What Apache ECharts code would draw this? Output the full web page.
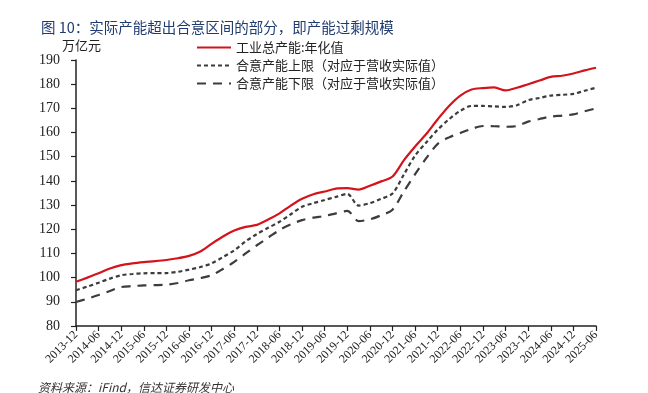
<!DOCTYPE html>
<html>
<head>
<meta charset="utf-8">
<script src="https://cdn.jsdelivr.net/npm/echarts@6/dist/echarts.min.js"></script>
<style>
  html, body { margin: 0; padding: 0; background: #fff; }
  #chart { width: 648px; height: 393px; }
</style>
</head>
<body>
<div id="chart"></div>
<script>
// quarterly points, labels shown every half year
const quarters = [
  '2013-12', '2014-03', '2014-06', '2014-09', '2014-12', '2015-03', '2015-06', '2015-09',
  '2015-12', '2016-03', '2016-06', '2016-09', '2016-12', '2017-03', '2017-06', '2017-09',
  '2017-12', '2018-03', '2018-06', '2018-09', '2018-12', '2019-03', '2019-06', '2019-09',
  '2019-12', '2020-03', '2020-06', '2020-09', '2020-12', '2021-03', '2021-06', '2021-09',
  '2021-12', '2022-03', '2022-06', '2022-09', '2022-12', '2023-03', '2023-06', '2023-09',
  '2023-12', '2024-03', '2024-06', '2024-09', '2024-12', '2025-03', '2025-06'
];

const totalCapacity = [
  98.3, 100.0, 101.8, 103.8, 105.2, 105.9, 106.4, 106.8,
  107.3, 108.0, 109.0, 110.8, 114.0, 117.0, 119.5, 121.0,
  121.8, 124.0, 126.6, 129.8, 132.6, 134.5, 135.6, 136.8,
  137.0, 136.4, 138.0, 139.8, 141.8, 148.5, 154.2, 159.5,
  165.5, 171.0, 175.3, 177.8, 178.4, 178.7, 177.4, 178.5,
  180.0, 181.5, 183.0, 183.5, 184.4, 185.7, 186.8
];

const upperBound = [
  94.8, 96.3, 97.9, 99.6, 101.0, 101.5, 101.8, 101.9,
  101.9, 102.4, 103.3, 104.4, 105.9, 108.5, 111.3, 115.0,
  118.0, 120.6, 123.1, 126.2, 129.3, 130.8, 132.1, 133.4,
  134.6, 129.8, 130.8, 132.6, 134.8, 142.6, 150.5, 156.0,
  161.2, 165.5, 169.0, 171.0, 171.0, 170.8, 170.6, 171.3,
  173.4, 174.3, 175.3, 175.6, 176.0, 177.3, 178.5
];

const lowerBound = [
  89.9, 91.3, 92.8, 94.5, 96.1, 96.5, 96.8, 96.9,
  97.1, 97.8, 98.9, 99.8, 101.0, 103.6, 106.5, 110.0,
  113.4, 116.5, 119.7, 122.0, 123.8, 124.8, 125.5, 126.6,
  127.6, 123.4, 124.1, 125.8, 128.1, 135.6, 142.8, 149.5,
  155.3, 158.0, 159.8, 161.5, 162.7, 162.6, 162.4, 162.7,
  164.5, 165.6, 166.6, 167.0, 167.5, 168.8, 170.0
];

const seriesNames = ['工业总产能:年化值', '合意产能上限（对应于营收实际值）', '合意产能下限（对应于营收实际值）'];

const cjk = '"Noto Sans CJK SC", sans-serif';
const serif = '"Liberation Serif", "DejaVu Serif", serif';

const chart = echarts.init(document.getElementById('chart'), null, { renderer: 'canvas' });

chart.setOption({
  animation: false,
  backgroundColor: '#fff',
  title: {
    text: '图 10：实际产能超出合意区间的部分，即产能过剩规模',
    left: 36,
    top: 15,
    textStyle: { color: '#1f3b6f', fontSize: 14.5, fontWeight: 'normal', fontFamily: cjk }
  },
  graphic: [
    {
      type: 'text', left: 62, top: 39,
      style: { text: '万亿元', fill: '#222', font: '13px ' + cjk }
    },
    {
      type: 'text', left: 38, top: 381,
      style: { text: '资料来源：iFind，信达证券研发中心', fill: '#333', font: 'italic 12px ' + cjk }
    }
  ],
  legend: {
    orient: 'vertical',
    left: 191,
    top: 36,
    itemWidth: 34,
    itemHeight: 14,
    itemGap: 5,
    itemStyle: { opacity: 0 },
    textStyle: { color: '#222', fontSize: 13, fontFamily: cjk },
    data: seriesNames
  },
  grid: { left: 76, right: 52, top: 60, bottom: 67, containLabel: false },
  xAxis: {
    type: 'category',
    data: quarters,
    boundaryGap: false,
    axisLine: { lineStyle: { color: '#222', width: 1.5 } },
    axisTick: { show: true, interval: 1, length: 5, lineStyle: { color: '#222', width: 1.2 } },
    axisLabel: { interval: 1, rotate: 45, color: '#222', fontSize: 12, fontFamily: serif, margin: 7 },
    splitLine: { show: false }
  },
  yAxis: {
    type: 'value',
    min: 80,
    max: 190,
    interval: 10,
    axisLine: { show: true, lineStyle: { color: '#222', width: 1.5 } },
    axisTick: { show: true, length: 5, inside: false, lineStyle: { color: '#222', width: 1.2 } },
    axisLabel: { color: '#222', fontSize: 14, fontFamily: serif, margin: 16 },
    splitLine: { show: false }
  },
  series: [
    {
      name: seriesNames[0],
      type: 'line',
      data: totalCapacity,
      smooth: 0.3,
      symbol: 'none',
      lineStyle: { color: '#d4141c', width: 2.2 },
      itemStyle: { color: '#d4141c' }
    },
    {
      name: seriesNames[1],
      type: 'line',
      data: upperBound,
      smooth: 0.3,
      symbol: 'none',
      lineStyle: { color: '#3c3c3c', width: 2.2, type: [4, 3] },
      itemStyle: { color: '#3c3c3c' }
    },
    {
      name: seriesNames[2],
      type: 'line',
      data: lowerBound,
      smooth: 0.3,
      symbol: 'none',
      lineStyle: { color: '#3c3c3c', width: 2.2, type: [9, 7] },
      itemStyle: { color: '#3c3c3c' }
    }
  ]
});
</script>
</body>
</html>
